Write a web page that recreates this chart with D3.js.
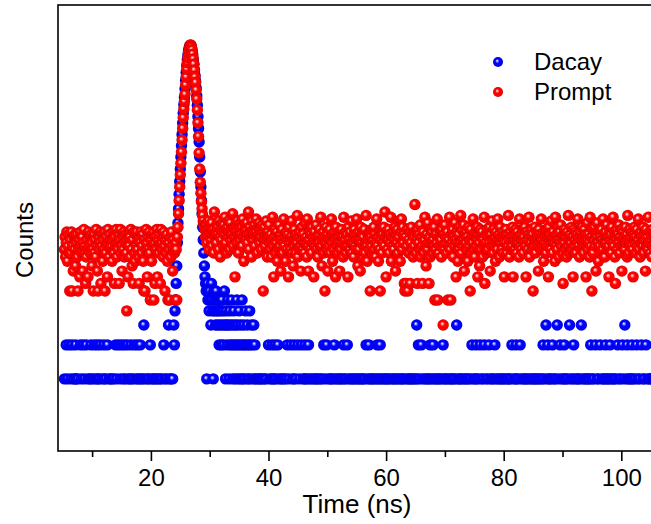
<!DOCTYPE html>
<html lang="en">
	<head>
		<meta charset="utf-8">
		<title>decay vs prompt</title>
		<script type="text/javascript" src="https://d3js.org/d3.v7.min.js"></script>
		<style type="text/css">
			body{margin:0;background:#fff;font-family:Arial, "Liberation Sans", sans-serif;}
			#chart1 svg{display:block;}
		</style>
	</head>
	<body>
		<div id="chart1"></div>
		<script type="text/javascript">
			// TCSPC histogram, 0.1 ns channels starting at 5.3 ns
			var startTime = 5.3
			var channelWidth = 0.1

			var seriesNames = ["Dacay", "Prompt"]
			var majorTicks = [20, 40, 60, 80, 100]
			var minorTicks = [10, 30, 50, 70, 90, 110]

			// blue series, counts per channel
			var decayCounts = [
				1,0,0,2,0,1,0,0,2,0, 0,1,0,2,0,0,1,0,1,2, 1,0,0,1,0,0,0,2,0,1, 0,0,2,0,1,0,0,2,0,0,
				1,0,0,1,0,2,1,0,0,0, 1,2,0,0,1,0,2,1,0,1, 0,2,0,0,1,0,0,2,1,0, 1,0,0,2,0,0,1,0,1,0,
				0,1,0,0,1,0,0,2,0,1, 0,0,2,0,0,1,0,2,0,0, 1,0,2,1,0,0,0,2,1,0, 0,1,0,2,1,0,0,1,0,2,
				0,0,1,0,2,1,0,0,1,2, 0,1,0,0,1,3,0,0,1,0, 0,0,1,0,1,0,2,0,0,1, 0,1,0,0,1,0,0,1,0,0,
				1,0,0,1,0,0,1,0,0,2, 0,1,0,0,1,0,0,3,0,1, 0,1,0,0,1,0,
				// peak
				3,2,4,5,7,10,16,24,32,43, 56,72,92,116,146,184,225,268,310,370,
				440,515,595,670,740,800,850,880,890,880, 850,800,740,675,610,545,485,430,375,320,
				265,210,165,125,92,68,50,38,29,22, 17,
				// decay tail
				13,10,8,7,6,1,7,5,6,4, 6,5,3,7,5,4,1,6,4,5, 3,6,4,5,3,4,2,5,3,4, 2,5,3,4,2,6,3,1,4,3,
				2,5,3,1,4,2,3,5,2,1, 3,4,2,1,3,2,5,1,3,2, 4,1,2,3,1,5,2,1,3,2, 1,4,2,0,3,1,2,1,4,2,
				0,3,1,2,0,3,1,2,0,1, 0,
				// background
				0,1,
				0,0,1,0,1,0,0,1,0,0, 1,0,0,1,0,0,0,2,0,1, 0,0,1,2,0,1,0,1,2,0, 1,0,0,2,0,1,0,0,1,0,
				0,1,0,0,1,0,0,1,0,2, 0,0,1,0,0,2,0,0,1,0, 1,2,0,0,1,0,0,2,0,0, 1,0,0,2,0,0,1,0,1,2,
				0,1,0,0,1,2,0,0,1,0, 0,1,0,0,0,1,0,1,0,0, 1,0,0,1,0,0,1,0,0,1, 0,2,0,0,1,0,2,0,0,1,
				0,0,1,0,1,0,0,1,0,2, 0,1,0,0,1,0,0,1,0,0, 1,0,1,0,0,2,1,0,1,0, 0,2,0,1,0,0,1,0,0,1,
				0,0,1,0,1,0,0,0,1,0, 1,0,0,1,0,0,1,0,1,0, 0,1,0,2,0,0,1,0,2,1, 0,0,1,0,1,0,0,1,0,0,
				1,0,2,1,0,0,1,2,0,1, 0,0,1,0,0,1,0,1,0,0, 1,0,1,0,0,0,1,0,0,1, 0,1,0,0,1,0,0,1,0,0,
				1,0,0,1,0,1,0,0,1,0, 0,0,1,0,0,1,0,1,0,0, 1,0,1,0,0,1,0,0,1,3, 0,1,2,0,0,1,0,2,0,0,
				1,0,0,1,0,0,1,0,0,1, 0,1,2,0,0,1,0,2,1,0, 0,1,0,0,1,0,1,0,0,1, 0,0,1,0,2,0,1,0,1,0,
				0,1,0,0,1,0,0,1,0,1, 0,0,1,0,1,0,0,3,0,1, 0,1,0,0,1,0,1,0,0,0, 1,0,1,0,0,1,0,0,1,0,
				0,1,0,2,0,0,1,0,1,0, 2,1,0,0,1,0,0,2,0,1, 0,0,1,0,2,0,0,1,0,0, 1,0,2,0,0,1,0,1,0,0,
				1,0,2,0,1,0,0,1,0,0, 1,0,0,1,0,1,0,0,1,0, 0,1,0,0,1,0,1,0,0,1, 0,2,0,0,1,0,0,1,2,1,
				0,0,1,0,0,2,0,1,0,0, 1,0,0,1,0,1,0,0,1,0, 0,1,0,0,1,0,0,1,0,1, 0,0,1,0,1,0,0,1,0,0,
				1,0,0,1,2,0,1,0,0,3, 0,1,2,0,1,0,1,0,0,1, 2,0,0,1,0,1,0,0,3,0, 1,0,0,2,0,1,0,0,1,0,
				2,1,0,1,0,0,1,0,0,3, 0,1,0,0,1,0,2,0,1,0, 0,1,0,0,1,0,1,0,0,3, 0,1,0,0,1,0,0,1,0,1,
				0,0,1,0,1,2,0,0,1,0, 1,0,0,2,0,0,1,0,1,0, 0,2,0,0,1,0,1,0,0,1, 2,0,1,0,1,0,0,1,2,0,
				1,0,0,1,0,1,0,0,1,0, 0,2,0,1,0,0,1,0,0,2, 0,1,0,3,0,0,1,2,0,1, 0,0,1,0,1,2,0,1,0,0,
				1,0,0,2,0,1,0,0,1,0, 0,2,0,0,1,0,1,0,0,2, 0,0,1,0,1,0,0,1,0,0, 1,0,1,0,0,1,0
			]

			// red series, counts per channel
			var promptCounts = [
				14,18,12,16,20,11,15,19,13,6, 17,13,20,6,15,9,18,14,19,10, 16,19,12,6,14,17,8,20,15,13,
				18,9,16,21,13,15,7,12,17,14, 8,20,15,18,13,19,16,10,14,6, 19,13,17,12,21,15,9,6,18,14,
				16,20,7,15,19,11,17,14,20,6, 13,18,15,8,21,16,12,19,14,17, 15,11,17,20,13,7,18,15,21,12,
				16,14,19,7,17,21,13,15,9,18, 14,20,12,16,19,13,4,17,8,19, 15,18,12,21,14,10,17,7,20,13,
				11,19,15,20,14,17,12,7,18,16, 20,13,15,19,11,6,17,6,14,21, 16,8,18,14,20,13,5,17,11,19,
				15,20,5,16,7,18,14,21,8,17, 13,19,15,7,21,16,14,18,12,20, 15,6,17,13,19,11,5,16,14,5,
				18,12,20,15,9,17,14,13,5,16, 14,5,
				// peak
				18,22,29,38,50,64,81,102, 130,165,205,245,285,330,400,470,550,630,
				700,770,830,880,905,900,870,820,750,680, 610,540,470,420,360,300,240,185,140,100,
				72,55,44,37,32,28,25,23,22,21,
				// after peak
				18,23,16,21,19,25,14,20,22,17, 24,15,19,21,13,30,18,20,16,23, 19,22,14,25,18,12,21,17,24,20,
				15,23,19,27,16,21,13,22,18,25, 20,14,24,17,21,19,29,15,22,18, 8,20,23,16,25,19,13,21,17,24,
				19,22,15,26,18,11,20,23,17,21, 24,16,19,30,14,22,18,20,12,25, 17,21,19,23,15,20,26,18,13,22,
				19,24,16,21,18,14,23,20,6,17, 22,15,19,25,17,12,20,18,23,16,
				// background
				14,19,12,17,27,15,8,18,21,13, 16,20,11,18,14,23,15,19,9,17, 21,13,16,26,15,18,11,20,14,17,
				19,8,22,16,14,18,25,13,17,10, 15,21,17,13,19,16,28,12,18,14, 20,15,9,17,22,14,19,16,13,24,
				16,18,12,26,15,9,17,20,14,19, 13,22,16,18,8,20,15,17,23,14, 18,12,19,16,21,14,27,15,10,17,
				20,13,18,6,16,22,14,19,9,17, 15,21,13,18,26,16,11,19,14,20, 17,8,22,15,18,13,20,16,9,19,
				14,21,16,18,12,27,15,17,20,13, 19,15,8,22,17,14,20,16,25,13, 16,18,12,21,15,19,14,26,17,10,
				20,14,17,9,22,16,19,12,18,15, 21,13,16,28,15,11,19,17,14,20, 6,18,15,21,13,17,22,14,19,12,
				16,26,15,18,11,20,14,6,17,21, 13,19,16,22,15,30,18,8,20,14, 17,21,13,19,16,27,11,18,15,20,
				14,17,22,9,19,16,21,13,18,25, 15,11,20,26,14,22,16,19,7,6, 18,7,15,21,6,17,13,20,7,16,
				22,14,19,12,18,15,35,20,13,17, 7,21,16,19,14,23,12,18,15,7, 20,13,17,27,15,10,19,14,24,16,
				7,18,12,21,16,20,13,17,15,22, 5,14,19,16,26,5,13,18,15,20, 17,12,21,15,3,19,14,23,16,18,
				13,20,5,17,15,27,14,5,19,16, 21,12,18,15,24,17,8,20,16,11, 19,14,22,16,28,13,21,15,17,23,
				9,19,16,20,14,18,11,22,15,17, 6,21,13,18,16,26,14,19,12,20, 15,17,22,8,19,16,10,21,14,18,
				20,12,17,15,27,7,16,19,13,21, 14,18,16,22,9,19,15,25,17,13, 21,15,18,11,20,16,14,26,17,19,
				12,22,16,18,14,20,13,17,8,19, 16,21,13,19,15,28,17,12,20,14, 18,15,22,8,17,19,14,21,16,13,
				20,16,18,12,26,15,19,14,17,21, 13,18,16,22,15,8,20,17,14,19, 27,12,18,16,21,14,19,6,15,17,
				22,13,17,20,15,18,9,21,16,19, 14,26,17,15,19,11,20,16,18,13, 21,15,18,8,22,16,19,14,25,17,
				13,20,16,18,11,27,15,19,14,22, 17,12,20,16,23,15,18,13,7,19, 16,21,14,18,12,20,15,28,17,13,
				19,16,22,14,18,8,21,15,17,20, 13,19,16,26,15,18,12,20,14,17, 22,15,18,13,21,16,19,8,17,24,
				14,19,16,12,27,15,18,6,21,13, 17,22,15,19,9,18,24,16,11,20, 15,18,13,21,17,14,26,16,19,12,
				20,16,23,14,18,15,8,21,17,19, 13,22,16,27,15,20,12,7,17,21, 14,19,16,23,13,18,15,21,9,17,
				20,15,18,14,22,16,19,12,28,17, 13,21,16,18,15,20,14,8,19,22, 16,18,13,21,15,17,26,14,19,12,
				20,16,18,15,22,13,17,19,9,21, 15,18,14,27,16,20,13,17,19,12, 21,15,18,14,20,16,17
			]

			drawChart()

			function drawChart(){
				var w = 651
				var h = 524
				var left = 58, top = 5, bottom = 451

				var xScale = d3.scaleLinear().domain([4.2, 110]).range([left, left + 105.8 * 5.88])
				var yScale = d3.scaleLog().domain([0.23, 2040]).range([bottom, top])

				var svg = d3.select("#chart1")
							.append("svg")
							.attr("width", w)
							.attr("height", h)

				var defs = svg.append("defs")
				function ball(id, hi, mid, edge){
					var g = defs.append("radialGradient").attr("id", id)
						.attr("cx", "50%").attr("cy", "50%").attr("r", "50%")
						.attr("fx", "40%").attr("fy", "36%")
					g.append("stop").attr("offset", "0%").attr("stop-color", "#ffffff")
					g.append("stop").attr("offset", "16%").attr("stop-color", hi)
					g.append("stop").attr("offset", "42%").attr("stop-color", mid)
					g.append("stop").attr("offset", "85%").attr("stop-color", mid)
					g.append("stop").attr("offset", "100%").attr("stop-color", edge)
				}
				ball("ballBlue", "#a0a0ff", "#0000ff", "#0000b4")
				ball("ballRed", "#ffa0a0", "#ff0000", "#bb0000")

				defs.append("clipPath").attr("id", "plotClip")
					.append("rect")
					.attr("x", left).attr("y", top)
					.attr("width", xScale.range()[1] - left)
					.attr("height", bottom - top)

				function toPoints(counts){
					var pts = []
					counts.forEach(function(c, i){
						if(c > 0) pts.push({t: startTime + i * channelWidth, c: c})
					})
					return pts
				}

				var plot = svg.append("g").attr("clip-path", "url(#plotClip)")
				var r = 5.7

				plot.append("g").selectAll("circle")
					.data(toPoints(decayCounts))
					.enter()
					.append("circle")
					.attr("cx", function(d){ return xScale(d.t) })
					.attr("cy", function(d){ return yScale(d.c) })
					.attr("r", r)
					.attr("fill", "url(#ballBlue)")

				plot.append("g").selectAll("circle")
					.data(toPoints(promptCounts))
					.enter()
					.append("circle")
					.attr("cx", function(d){ return xScale(d.t) })
					.attr("cy", function(d){ return yScale(d.c) })
					.attr("r", r)
					.attr("fill", "url(#ballRed)")

				// frame
				svg.append("rect")
					.attr("x", left).attr("y", top)
					.attr("width", xScale.range()[1] - left)
					.attr("height", bottom - top)
					.attr("fill", "none")
					.attr("stroke", "#000")
					.attr("stroke-width", 1.6)

				var xAxis = d3.axisBottom(xScale).tickValues(majorTicks).tickSize(10).tickPadding(8)
				var xMinor = d3.axisBottom(xScale).tickValues(minorTicks).tickSize(6).tickFormat("")

				var gx = svg.append("g").attr("transform", "translate(0," + bottom + ")").call(xAxis)
				svg.append("g").attr("transform", "translate(0," + bottom + ")").call(xMinor)
					.select(".domain").remove()
				gx.select(".domain").remove()
				svg.selectAll(".tick line").attr("stroke", "#000").attr("stroke-width", 1.6)
				gx.selectAll("text")
					.attr("fill", "#000")
					.style("font-family", "Arial, 'Liberation Sans', sans-serif")
					.style("font-size", "24px")

				svg.append("text")
					.attr("x", 357).attr("y", 513)
					.attr("text-anchor", "middle")
					.style("font-size", "26px")
					.text("Time (ns)")

				svg.append("text")
					.attr("transform", "translate(33,240) rotate(-90)")
					.attr("text-anchor", "middle")
					.style("font-size", "24px")
					.text("Counts")

				// legend
				var legend = svg.append("g")
				var fills = ["url(#ballBlue)", "url(#ballRed)"]
				seriesNames.forEach(function(name, i){
					legend.append("circle")
						.attr("cx", 498).attr("cy", 62 + i * 30)
						.attr("r", 5)
						.attr("fill", fills[i])
					legend.append("text")
						.attr("x", 534).attr("y", 70 + i * 30)
						.style("font-size", "24px")
						.text(name)
				})
			}
		</script>
	</body>
</html>
